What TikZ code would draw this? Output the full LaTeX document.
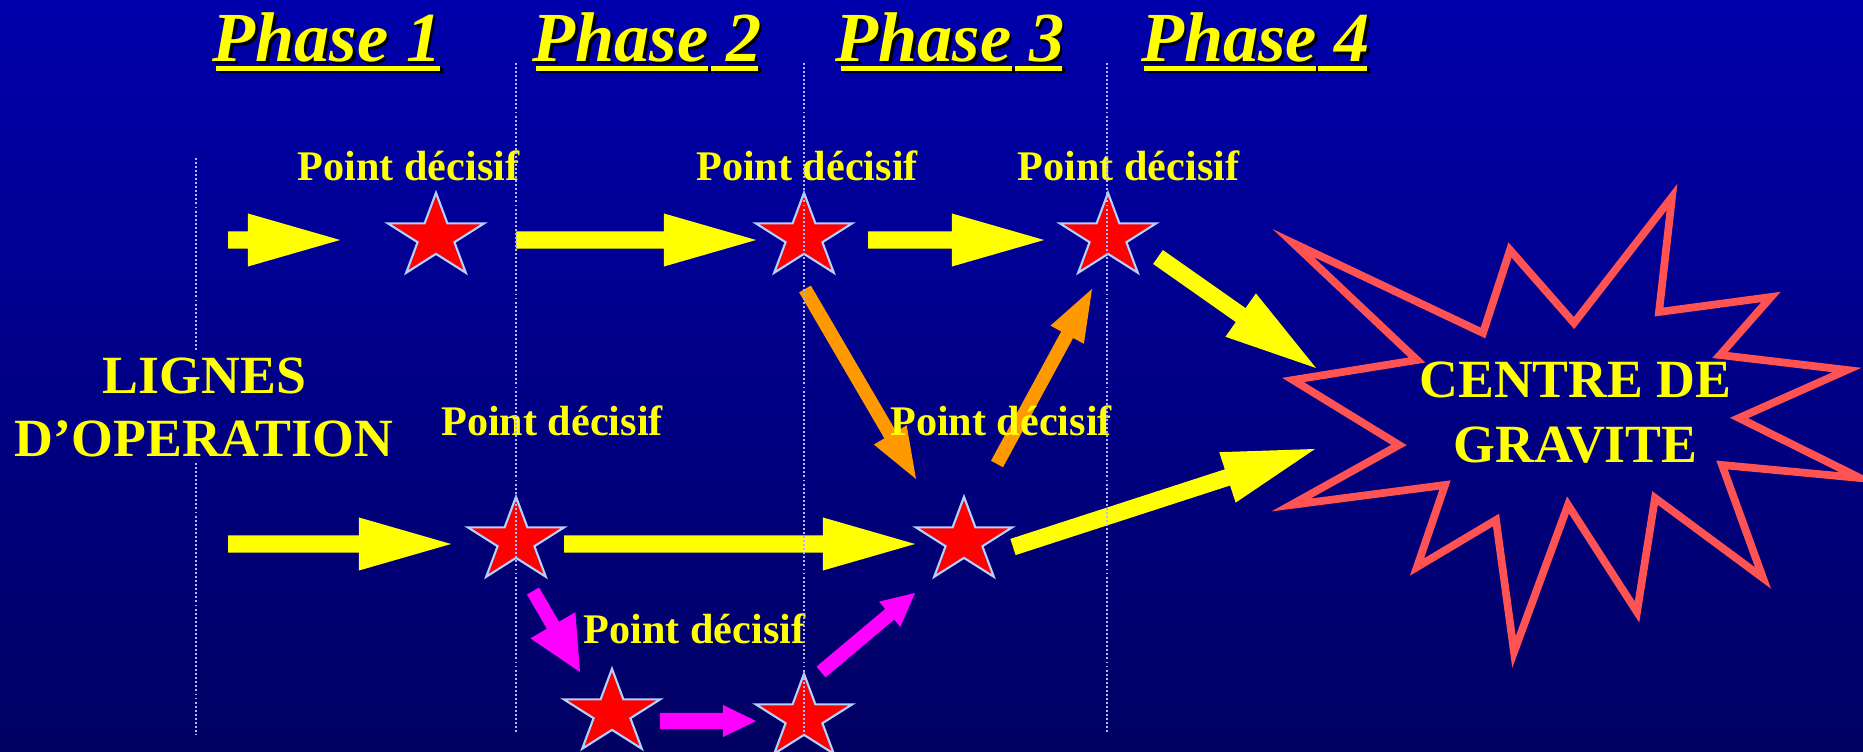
\documentclass[tikz,border=0pt]{standalone}
\usepackage{fontspec}
\setmainfont{Liberation Serif}
\usetikzlibrary{calc}
\definecolor{bgtop}{RGB}{0,0,172}
\definecolor{bgbot}{RGB}{0,0,98}
\definecolor{ylw}{RGB}{255,255,0}
\definecolor{orng}{RGB}{255,153,0}
\definecolor{mgnt}{RGB}{255,0,255}
\definecolor{starred}{RGB}{255,0,0}
\definecolor{starline}{RGB}{175,210,255}
\definecolor{burst}{RGB}{255,82,82}
\definecolor{dotc}{RGB}{175,185,255}
\newcommand{\blockarrow}[6]{%
  \coordinate (hb) at ($(#2)!#5!(#1)$);
  \fill[#6] ($(#1)!#3!90:(#2)$) -- ($(hb)!#3!-90:(#1)$) -- ($(hb)!#4!-90:(#1)$) -- (#2)
    -- ($(hb)!#4!90:(#1)$) -- ($(hb)!#3!90:(#1)$) -- ($(#1)!#3!-90:(#2)$) -- cycle;
}
\tikzset{
  redstar/.pic={
    \filldraw[fill=starred, draw=starline, line width=0.6pt, line join=miter]
      (0,-44.2) -- (11.39,-13.66) -- (48.22,-13.66) -- (18.42,5.22) -- (29.80,35.76)
      -- (0,16.88) -- (-29.80,35.76) -- (-18.42,5.22) -- (-48.22,-13.66) -- (-11.39,-13.66) -- cycle;
  },
  phase/.style={font=\fontsize{20}{24}\selectfont\bfseries\itshape, text=ylw, anchor=base, inner sep=0pt},
  phaseshadow/.style={phase, text=black},
  pd/.style={font=\fontsize{12}{14}\selectfont\bfseries, text=ylw, anchor=base, inner sep=0pt},
  biglabel/.style={font=\fontsize{15.3}{18}\selectfont\bfseries, text=ylw, anchor=base, inner sep=0pt},
  dotl/.style={draw=dotc, line width=0.55pt, dash pattern=on 0.55pt off 0.6pt},
}
\begin{document}
\begin{tikzpicture}[x=0.01cm, y=-0.01cm]
\shade[top color=bgtop, bottom color=bgbot] (0,0) rectangle (1863,752);
\useasboundingbox (0,0) rectangle (1863,752);

% phase titles with shadow
\foreach \n/\x in {1/327, 2/647, 3/950, 4/1255.5} {
  \node[phaseshadow] (phs\n) at (\x+2.5,64.5) {Phase \n};
  \node[phase] (ph\n) at (\x,62) {Phase \n};
}
\foreach \a/\b in {216/440, 536/708, 711/758, 841/1012, 1015/1062, 1144/1316, 1318/1367} {
  \fill[black] (\a+2.5,68.5) rectangle (\b+2.5,73.5);
  \fill[ylw] (\a,66) rectangle (\b,71);
}

% centre de gravite starburst
\draw[burst, line width=2.2pt, line join=miter]
  (1293,243) -- (1483,333) -- (1510,250) -- (1574,323) -- (1672,197) -- (1659,312)
  -- (1771,297) -- (1720,355) -- (1847,370) -- (1739,418) -- (1860,478) -- (1722,465)
  -- (1763,578) -- (1655,498) -- (1637,612) -- (1568,505) -- (1514,652) -- (1496,520)
  -- (1417,567) -- (1445,485) -- (1291,505) -- (1399,445) -- (1293,380) -- (1417,360) -- cycle;

% star positions
\coordinate (sA) at (436,237);
\coordinate (sB) at (804,237);
\coordinate (sC) at (1108,237);
\coordinate (sD) at (516,541);
\coordinate (sE) at (964,541);
\coordinate (sF) at (612,713);
\coordinate (sG) at (804,718);

% arrow end points
\coordinate (y1s) at (228,240);  \coordinate (y1t) at (340,240);
\coordinate (y2s) at (516,240);  \coordinate (y2t) at (756,240);
\coordinate (y3s) at (868,240);  \coordinate (y3t) at (1044,240);
\coordinate (y4s) at (1158,257); \coordinate (y4t) at (1316,368);
\coordinate (y5s) at (228,544);  \coordinate (y5t) at (451,544);
\coordinate (y6s) at (564,544);  \coordinate (y6t) at (915,544);
\coordinate (y7s) at (1013,547); \coordinate (y7t) at (1315,449);
\coordinate (o1s) at (805,289);  \coordinate (o1t) at (916,479);
\coordinate (o2s) at (997,464);  \coordinate (o2t) at (1092,289);
\coordinate (m1s) at (533,591);  \coordinate (m1t) at (580,672);
\coordinate (m2s) at (660,721);  \coordinate (m2t) at (756,721);
\coordinate (m3s) at (821,672);  \coordinate (m3t) at (915,593);

\blockarrow{y1s}{y1t}{0.085cm}{0.265cm}{0.92cm}{ylw}
\blockarrow{y2s}{y2t}{0.085cm}{0.265cm}{0.92cm}{ylw}
\blockarrow{y3s}{y3t}{0.085cm}{0.265cm}{0.92cm}{ylw}
\blockarrow{y4s}{y4t}{0.085cm}{0.265cm}{0.92cm}{ylw}
\blockarrow{y5s}{y5t}{0.085cm}{0.265cm}{0.92cm}{ylw}
\blockarrow{y6s}{y6t}{0.085cm}{0.265cm}{0.92cm}{ylw}
\blockarrow{y7s}{y7t}{0.085cm}{0.265cm}{0.92cm}{ylw}
\blockarrow{o1s}{o1t}{0.068cm}{0.19cm}{0.51cm}{orng}
\blockarrow{o2s}{o2t}{0.068cm}{0.19cm}{0.52cm}{orng}
\blockarrow{m1s}{m1t}{0.07cm}{0.26cm}{0.54cm}{mgnt}
\blockarrow{m2s}{m2t}{0.08cm}{0.16cm}{0.33cm}{mgnt}
\blockarrow{m3s}{m3t}{0.07cm}{0.165cm}{0.33cm}{mgnt}

% stars
\foreach \s in {sA,sB,sC,sD,sE,sF,sG} { \pic at (\s) {redstar}; }

% labels
\node[pd] (pd1) at (408.5,181) {Point décisif};
\node[pd] (pd2) at (807,181) {Point décisif};
\node[pd] (pd3) at (1128.5,181) {Point décisif};
\node[pd] (pd4) at (552,436) {Point décisif};
\node[pd] (pd5) at (1001,436) {Point décisif};
\node[pd] (pd6) at (694.5,643) {Point décisif};

% dotted phase separators
\draw[dotl] (196,158) -- (196,352);
\draw[dotl] (196,463) -- (196,734);
\draw[dotl] (516,63) -- (516,734);
\draw[dotl] (804,63) -- (804,734);
\draw[dotl] (1107,63) -- (1107,734);

\node[biglabel] (lig1) at (204.5,394) {LIGNES};
\node[biglabel] (lig2) at (204,457) {D’OPERATION};
\node[biglabel] (cdg1) at (1575.5,398) {CENTRE DE};
\node[biglabel] (cdg2) at (1575.5,463) {GRAVITE};
\end{tikzpicture}
\end{document}
